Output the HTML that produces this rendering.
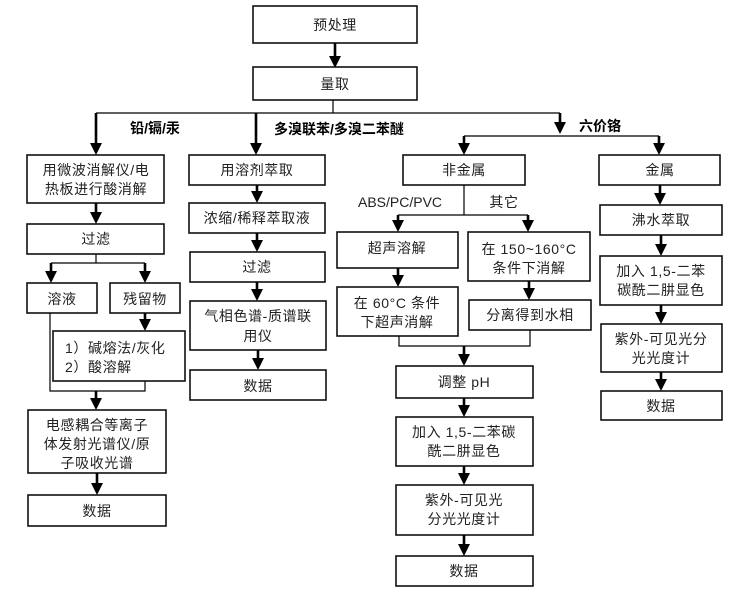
<!DOCTYPE html>
<html><head><meta charset="utf-8"><style>
html,body{margin:0;padding:0;background:#fff;}
svg{display:block;}
text{font-family:"Liberation Sans","Noto Sans CJK SC",sans-serif;font-size:14px;fill:#222;letter-spacing:0.6px;}
.b{font-weight:bold;fill:#000;letter-spacing:0;}
rect{fill:#fff;stroke:#111;stroke-width:1.6;}
line,polyline{stroke:#000;stroke-width:1.2;fill:none;}
.t{stroke-width:2.6;}
</style></head><body>
<svg width="750" height="597" viewBox="0 0 750 597">
<defs><marker id="a" markerWidth="4.6" markerHeight="4.6" refX="2.3" refY="2.3" orient="auto" markerUnits="strokeWidth"><path d="M0,0 L4.6,2.3 L0,4.6 z" fill="#000"/></marker></defs>
<g text-anchor="middle">
<rect x="253" y="6" width="164" height="37"/><text x="335" y="30">预处理</text>
<line class="t" x1="335" y1="43" x2="335" y2="62" marker-end="url(#a)"/>
<rect x="253" y="67" width="164" height="33"/><text x="335" y="89">量取</text>
<line x1="333" y1="100" x2="333" y2="113"/>
<line x1="96" y1="113" x2="560" y2="113"/>
<line class="t" x1="96" y1="113" x2="96" y2="149" marker-end="url(#a)"/>
<line class="t" x1="256" y1="113" x2="256" y2="149" marker-end="url(#a)"/>
<line class="t" x1="560" y1="113" x2="560" y2="128" marker-end="url(#a)"/>
<text class="b" x="155" y="133">铅/镉/汞</text>
<text class="b" x="339" y="134">多溴联苯/多溴二苯醚</text>
<text class="b" x="600" y="131">六价铬</text>
<rect x="27" y="155" width="137" height="48"/><text x="96" y="175">用微波消解仪/电</text><text x="96" y="194">热板进行酸消解</text>
<line class="t" x1="96" y1="203" x2="96" y2="218" marker-end="url(#a)"/>
<rect x="27" y="224" width="137" height="30"/><text x="96" y="244">过滤</text>
<line x1="96" y1="254" x2="96" y2="263"/><line x1="51" y1="263" x2="145" y2="263"/>
<line class="t" x1="51" y1="263" x2="51" y2="277" marker-end="url(#a)"/>
<line class="t" x1="145" y1="263" x2="145" y2="277" marker-end="url(#a)"/>
<rect x="27" y="283" width="70" height="30"/><text x="62" y="304">溶液</text>
<rect x="110" y="283" width="70" height="30"/><text x="145" y="304">残留物</text>
<line class="t" x1="145" y1="313" x2="145" y2="325" marker-end="url(#a)"/>
<polyline points="50,313 50,391 145,391 145,381"/>
<rect x="53" y="331" width="132" height="50"/>
<text x="65" y="353" text-anchor="start">1）碱熔法/灰化</text><text x="65" y="372" text-anchor="start">2）酸溶解</text>
<line class="t" x1="96" y1="391" x2="96" y2="404" marker-end="url(#a)"/>
<rect x="28" y="410" width="138" height="63"/><text x="97" y="430">电感耦合等离子</text><text x="97" y="449">体发射光谱仪/原</text><text x="97" y="468">子吸收光谱</text>
<line class="t" x1="97" y1="473" x2="97" y2="489" marker-end="url(#a)"/>
<rect x="28" y="495" width="138" height="31"/><text x="97" y="516">数据</text>
<rect x="189" y="155" width="136" height="30"/><text x="257" y="175">用溶剂萃取</text>
<line class="t" x1="257" y1="185" x2="257" y2="197" marker-end="url(#a)"/>
<rect x="189" y="203" width="136" height="30"/><text x="257" y="223">浓缩/稀释萃取液</text>
<line class="t" x1="257" y1="233" x2="257" y2="246" marker-end="url(#a)"/>
<rect x="190" y="252" width="135" height="30"/><text x="257" y="272">过滤</text>
<line class="t" x1="257" y1="282" x2="257" y2="295" marker-end="url(#a)"/>
<rect x="190" y="301" width="136" height="49"/><text x="258" y="321">气相色谱-质谱联</text><text x="258" y="341">用仪</text>
<line class="t" x1="258" y1="350" x2="258" y2="364" marker-end="url(#a)"/>
<rect x="190" y="370" width="136" height="30"/><text x="258" y="391">数据</text>
<line x1="464" y1="136" x2="659" y2="136"/>
<line class="t" x1="464" y1="136" x2="464" y2="149" marker-end="url(#a)"/>
<line class="t" x1="659" y1="136" x2="659" y2="149" marker-end="url(#a)"/>
<rect x="403" y="155" width="122" height="30"/><text x="464" y="175">非金属</text>
<text x="400" y="207" style="letter-spacing:0">ABS/PC/PVC</text><text x="504" y="207">其它</text>
<line x1="464" y1="185" x2="464" y2="215"/><line x1="398" y1="215" x2="528" y2="215"/>
<line class="t" x1="398" y1="215" x2="398" y2="226" marker-end="url(#a)"/>
<line class="t" x1="528" y1="215" x2="528" y2="226" marker-end="url(#a)"/>
<rect x="337" y="232" width="121" height="36"/><text x="397" y="253">超声溶解</text>
<rect x="468" y="232" width="122" height="49"/><text x="529" y="254">在 150~160°C</text><text x="529" y="273">条件下消解</text>
<line class="t" x1="398" y1="268" x2="398" y2="281" marker-end="url(#a)"/>
<rect x="337" y="287" width="121" height="49"/><text x="397" y="308">在 60°C 条件</text><text x="397" y="327">下超声消解</text>
<line class="t" x1="529" y1="281" x2="529" y2="294" marker-end="url(#a)"/>
<rect x="469" y="300" width="122" height="30"/><text x="530" y="320">分离得到水相</text>
<polyline points="399,336 399,346 530,346 530,330"/>
<line class="t" x1="464" y1="346" x2="464" y2="360" marker-end="url(#a)"/>
<rect x="396" y="366" width="137" height="32"/><text x="464" y="387">调整 pH</text>
<line class="t" x1="464" y1="398" x2="464" y2="411" marker-end="url(#a)"/>
<rect x="396" y="417" width="137" height="49"/><text x="464" y="437">加入 1,5-二苯碳</text><text x="464" y="456">酰二肼显色</text>
<line class="t" x1="464" y1="466" x2="464" y2="479" marker-end="url(#a)"/>
<rect x="396" y="485" width="137" height="50"/><text x="464" y="505">紫外-可见光</text><text x="464" y="524">分光光度计</text>
<line class="t" x1="464" y1="535" x2="464" y2="550" marker-end="url(#a)"/>
<rect x="396" y="556" width="137" height="30"/><text x="464" y="576">数据</text>
<rect x="599" y="155" width="121" height="30"/><text x="660" y="175">金属</text>
<line class="t" x1="660" y1="185" x2="660" y2="199" marker-end="url(#a)"/>
<rect x="600" y="205" width="122" height="30"/><text x="661" y="225">沸水萃取</text>
<line class="t" x1="661" y1="235" x2="661" y2="250" marker-end="url(#a)"/>
<rect x="600" y="256" width="122" height="49"/><text x="661" y="276">加入 1,5-二苯</text><text x="661" y="295">碳酰二肼显色</text>
<line class="t" x1="661" y1="305" x2="661" y2="318" marker-end="url(#a)"/>
<rect x="601" y="324" width="121" height="48"/><text x="661" y="344">紫外-可见光分</text><text x="661" y="363">光光度计</text>
<line class="t" x1="661" y1="372" x2="661" y2="385" marker-end="url(#a)"/>
<rect x="601" y="391" width="121" height="29"/><text x="661" y="411">数据</text>
</g>
</svg>
</body></html>
